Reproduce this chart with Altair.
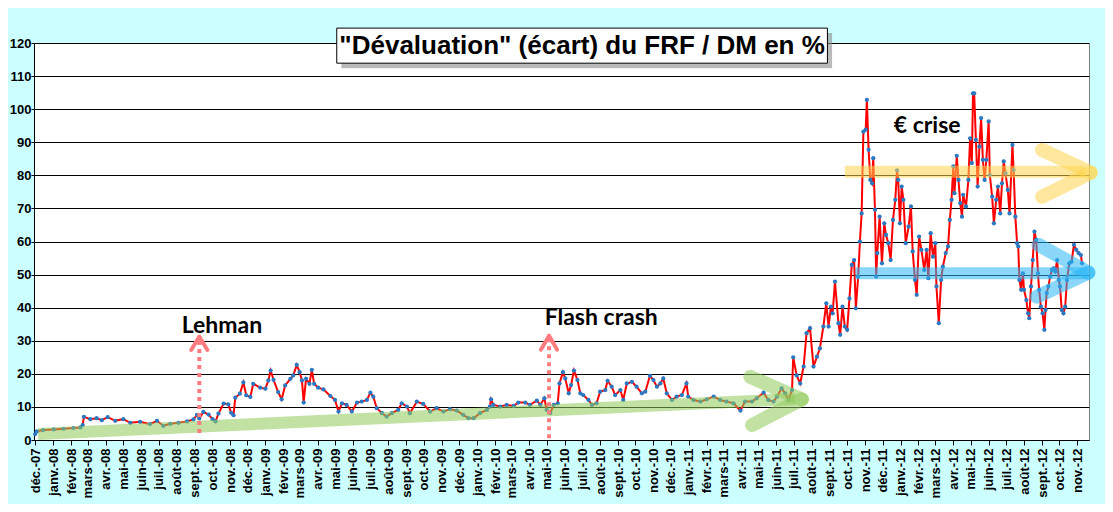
import altair as alt
import pandas as pd
import datetime as dt
import json

# ---- series: days since 1 Dec 2007, FRF/DM "devaluation" gap in % ----
jour = [0, 3, 14, 32, 49, 66, 78, 82, 84, 95, 106, 115, 125, 138, 152, 164, 181, 198, 210, 221,
        233, 247, 262, 273, 279, 283, 290, 299, 306, 311, 316, 325, 333, 338, 342, 345, 353, 359, 364, 371,
        376, 388, 397, 402, 406, 411, 419, 425, 431, 440, 445, 451, 456, 460, 463, 467, 473, 477, 481, 488,
        497, 509, 517, 523, 529, 537, 546, 555, 563, 572, 578, 583, 589, 598, 606, 615, 626, 632, 641, 646,
        658, 669, 681, 692, 704, 715, 727, 738, 747, 756, 767, 779, 784, 786, 790, 802, 813, 825, 833, 845,
        853, 865, 871, 878, 882, 888, 894, 901, 904, 910, 914, 920, 924, 929, 935, 940, 945, 954, 960, 968,
        974, 983, 987, 994, 1000, 1009, 1014, 1020, 1029, 1037, 1046, 1052, 1060, 1066, 1072, 1078, 1083, 1089, 1098, 1106,
        1115, 1123, 1126, 1135, 1147, 1158, 1170, 1181, 1192, 1204, 1216, 1224, 1236, 1244, 1256, 1264, 1273, 1279, 1287, 1293,
        1299, 1305, 1307, 1313, 1319, 1325, 1330, 1336, 1342, 1348, 1353, 1359, 1364, 1368, 1372, 1375, 1379, 1385, 1388, 1392,
        1396, 1400, 1404, 1408, 1412, 1415, 1419, 1422, 1425, 1428, 1432, 1434, 1437, 1440, 1443, 1445, 1448, 1450, 1452, 1456,
        1460, 1464, 1467, 1471, 1475, 1479, 1483, 1486, 1488, 1491, 1494, 1497, 1501, 1506, 1510, 1513, 1517, 1520, 1524, 1528,
        1533, 1537, 1540, 1544, 1548, 1552, 1554, 1558, 1562, 1565, 1570, 1574, 1577, 1580, 1583, 1585, 1589, 1592, 1595, 1598,
        1600, 1605, 1609, 1612, 1615, 1617, 1619, 1622, 1625, 1628, 1631, 1634, 1637, 1640, 1644, 1646, 1650, 1653, 1657, 1660,
        1664, 1667, 1670, 1673, 1677, 1680, 1685, 1687, 1690, 1693, 1695, 1697, 1700, 1703, 1705, 1709, 1712, 1714, 1717, 1720,
        1723, 1726, 1729, 1731, 1734, 1737, 1740, 1742, 1744, 1747, 1750, 1753, 1756, 1759, 1762, 1765, 1767, 1770, 1773, 1776,
        1779, 1783, 1787, 1791, 1795, 1799, 1803, 1805]
ecart = [1.8, 2.6, 3.0, 3.2, 3.4, 3.6, 3.8, 4.5, 7.0, 6.3, 6.6, 6.0, 6.9, 5.8, 6.3, 5.2, 5.5, 4.8, 5.8, 4.3,
         4.9, 5.2, 5.6, 6.2, 7.6, 6.5, 8.5, 7.7, 6.3, 5.6, 8.0, 11.0, 10.8, 8.2, 7.5, 12.8, 14.0, 17.4, 13.5, 13.0,
         17.0, 15.8, 15.5, 18.0, 21.0, 18.2, 14.5, 12.3, 16.5, 18.5, 19.5, 22.7, 20.5, 18.0, 11.3, 18.5, 17.0, 21.2, 17.0, 15.8,
         15.3, 13.3, 12.1, 8.6, 11.1, 10.6, 8.6, 11.3, 11.6, 12.1, 14.3, 13.1, 9.6, 8.1, 7.1, 8.1, 9.1, 11.1, 10.1, 8.1,
         11.6, 10.9, 8.6, 9.6, 8.6, 9.3, 8.9, 7.6, 6.6, 6.6, 8.1, 9.1, 10.1, 12.3, 10.6, 10.1, 10.6, 10.3, 11.3, 11.3,
         10.6, 11.9, 10.6, 12.6, 9.1, 8.1, 10.6, 11.1, 17.1, 20.5, 18.6, 14.1, 16.6, 21.0, 18.1, 14.1, 13.6, 12.1, 10.6, 11.1,
         14.6, 15.1, 17.9, 16.1, 13.6, 15.1, 12.1, 17.1, 17.6, 16.1, 14.1, 14.6, 19.4, 18.1, 16.1, 17.1, 18.6, 14.1, 12.1, 13.1,
         13.6, 17.1, 13.1, 12.1, 11.6, 12.3, 13.1, 12.1, 11.6, 11.1, 8.9, 11.6, 11.6, 12.6, 14.3, 12.1, 11.6, 13.1, 15.6, 14.1,
         12.1, 15.1, 25.0, 19.5, 17.1, 22.2, 32.3, 33.8, 22.2, 25.2, 27.7, 34.3, 41.3, 34.3, 40.3, 38.3, 47.9, 35.3, 31.8, 40.3,
         34.3, 33.3, 42.8, 52.9, 54.4, 39.8, 49.4, 60.0, 68.5, 93.2, 93.8, 102.8, 87.7, 78.6, 77.6, 85.2, 69.6, 49.4, 56.5, 67.5,
         53.4, 65.5, 62.0, 59.5, 54.4, 66.5, 72.6, 81.5, 78.6, 65.5, 76.6, 72.6, 59.5, 64.5, 70.6, 57.0, 48.4, 43.9, 61.5, 57.5,
         51.4, 57.5, 48.9, 62.5, 55.4, 59.5, 46.4, 35.3, 48.4, 52.4, 56.5, 58.5, 66.5, 72.6, 82.7, 74.6, 85.9, 78.6, 71.6, 67.5,
         74.1, 70.6, 78.6, 91.2, 83.7, 104.8, 104.8, 90.7, 76.6, 88.7, 97.3, 84.7, 78.6, 84.7, 96.3, 80.1, 73.6, 65.5, 72.6, 76.6,
         68.5, 77.6, 84.2, 80.6, 75.6, 68.5, 89.2, 81.6, 67.5, 59.5, 58.5, 48.4, 45.4, 50.4, 45.4, 42.3, 38.3, 36.8, 46.4, 54.4,
         63.0, 60.5, 50.4, 45.4, 40.3, 38.3, 33.3, 39.3, 44.4, 46.4, 49.4, 51.4, 51.9, 50.9, 54.4, 48.4, 46.4, 39.3, 38.3, 40.3,
         48.4, 53.4, 53.9, 59.0, 57.5, 56.5, 55.9, 53.4]

# ---- month tick labels ----
mois_abr = ["janv.", "févr.", "mars", "avr.", "mai", "juin", "juil.", "août", "sept.", "oct.", "nov.", "déc."]
base_date = dt.date(2007, 12, 1)
tick_days, tick_labels = [], []
yy, mm = 2007, 12
while (yy, mm) <= (2012, 11):
    tick_days.append((dt.date(yy, mm, 1) - base_date).days)
    tick_labels.append(f"{mois_abr[mm - 1]}-{yy % 100:02d}")
    mm += 1
    if mm > 12:
        mm, yy = 1, yy + 1

y_ticks = list(range(0, 121, 10))

# ---- annotation geometry (data units: day, %) ----
bands_x = [5, 1396, 1414]
bands_x2 = [1310, 1810, 1815]
bands_y = [1.8, 81.1, 50.4]
bands_y2 = [12.4, 81.1, 50.4]
bands_c = ["#8FCB5A", "#FFD54F", "#29B6F6"]

arms_x = [1233, 1236, 1736, 1736, 1730, 1727]
arms_y = [19.1, 4.5, 87.7, 73.5, 59.0, 43.3]
arms_x2 = [1322, 1322, 1820, 1820, 1816, 1816]
arms_y2 = [12.3, 12.3, 80.8, 80.8, 50.6, 50.6]
arms_c = ["#8FCB5A", "#8FCB5A", "#FFD54F", "#FFD54F", "#29B6F6", "#29B6F6"]

ev_x = [283, 886]
ev_y = [2.1, 0.5]
ev_y2 = [30.5, 30.8]
head_x = [269, 297, 872, 900]
head_y = [27.2, 27.2, 27.3, 27.3]
head_x2 = [283, 283, 886, 886]
head_y2 = [31.2, 31.2, 31.5, 31.5]

txt_x = [322, 976, 1538]
txt_y = [34.5, 36.9, 95.0]
txt_s = ["Lehman", "Flash crash", "€ crise"]

title_txt = "\"Dévaluation\" (écart) du FRF / DM en %"

df = pd.DataFrame({"jour": jour, "ecart": ecart})
bands = pd.DataFrame({"jour": bands_x, "x2": bands_x2, "ecart": bands_y, "y2": bands_y2, "c": bands_c})
arms = pd.DataFrame({"jour": arms_x, "x2": arms_x2, "ecart": arms_y, "y2": arms_y2, "c": arms_c})
ev = pd.DataFrame({"jour": ev_x, "ecart": ev_y, "y2": ev_y2})
heads = pd.DataFrame({"jour": head_x, "x2": head_x2, "ecart": head_y, "y2": head_y2})
txts = pd.DataFrame({"jour": txt_x, "ecart": txt_y, "t": txt_s})
tbox = pd.DataFrame({"jour": [520], "x2": [1366], "ecart": [124.5], "y2": [113.9]})
tshadow = pd.DataFrame({"jour": [528], "x2": [1374], "ecart": [123.0], "y2": [112.4]})
ttext = pd.DataFrame({"jour": [943], "ecart": [119.2], "t": [title_txt]})

label_expr = f"{json.dumps(tick_labels, ensure_ascii=False)}[indexof({json.dumps(tick_days)}, datum.value)]"

xscale = alt.Scale(domain=[-2, 1817], nice=False, zero=False)
yscale = alt.Scale(domain=[0, 120], nice=False, zero=True)

x_axis = alt.Axis(values=tick_days, labelExpr=label_expr, labelAngle=270, labelAlign="right",
                  labelBaseline="middle", labelFont="Liberation Sans", labelFontWeight="bold",
                  labelFontSize=13, labelColor="black", labelPadding=3, tickSize=5, tickColor="black",
                  domainColor="black", grid=False, title=None, labelOverlap=False, labelBound=False,
                  labelFlush=False)
y_axis = alt.Axis(values=y_ticks, labelFont="Liberation Sans", labelFontWeight="bold", labelFontSize=13,
                  labelColor="black", labelPadding=0, tickSize=3, tickColor="black", domainColor="black",
                  grid=True, gridColor="black", gridWidth=1, gridOpacity=1, title=None)

X = alt.X("jour:Q", scale=xscale, axis=x_axis)
Y = alt.Y("ecart:Q", scale=yscale, axis=y_axis)

line = alt.Chart(df).mark_line(color="#FF0000", strokeWidth=2).encode(x=X, y=Y)
points = alt.Chart(df).mark_circle(color="#2A78C2", size=18, opacity=1).encode(x=X, y=Y)

band_layer = alt.Chart(bands).mark_rule(strokeWidth=12, strokeCap="butt", opacity=0.55).encode(
    x=X, x2="x2", y=Y, y2="y2", color=alt.Color("c:N", scale=None))
arm_layer = alt.Chart(arms).mark_rule(strokeWidth=14, strokeCap="round", opacity=0.55).encode(
    x=X, x2="x2", y=Y, y2="y2", color=alt.Color("c:N", scale=None))

ev_layer = alt.Chart(ev).mark_rule(color="#FF7C80", strokeWidth=4, strokeDash=[4, 4]).encode(
    x=X, y=Y, y2="y2")
head_layer = alt.Chart(heads).mark_rule(color="#FF7C80", strokeWidth=4, strokeCap="round").encode(
    x=X, x2="x2", y=Y, y2="y2")

txt_layer = alt.Chart(txts).mark_text(font="Lato", fontWeight="bold", fontSize=23, color="black").encode(
    x=X, y=Y, text="t:N")

shadow_layer = alt.Chart(tshadow).mark_rect(color="#8C8C8C", opacity=0.6).encode(
    x=X, x2="x2", y=Y, y2="y2")
box_layer = alt.Chart(tbox).mark_rect(fill="white", stroke="black", strokeWidth=1).encode(
    x=X, x2="x2", y=Y, y2="y2")
title_layer = alt.Chart(ttext).mark_text(font="Liberation Sans", fontWeight="bold", fontSize=26,
                                          color="black", baseline="middle").encode(
    x=X, y=Y, text="t:N")

chart = alt.layer(line, points, band_layer, arm_layer, ev_layer, head_layer, txt_layer,
                  shadow_layer, box_layer, title_layer).properties(
    width=1055, height=397,
    autosize=alt.AutoSizeParams(type="none"),
    padding={"left": 26, "top": 35, "right": 16, "bottom": 64},
    background="#CCFFFF",
).configure_view(stroke="#7F7F7F", strokeWidth=1, fill="white")

chart.save("out.html", embed_options={"renderer": "svg", "actions": False})
